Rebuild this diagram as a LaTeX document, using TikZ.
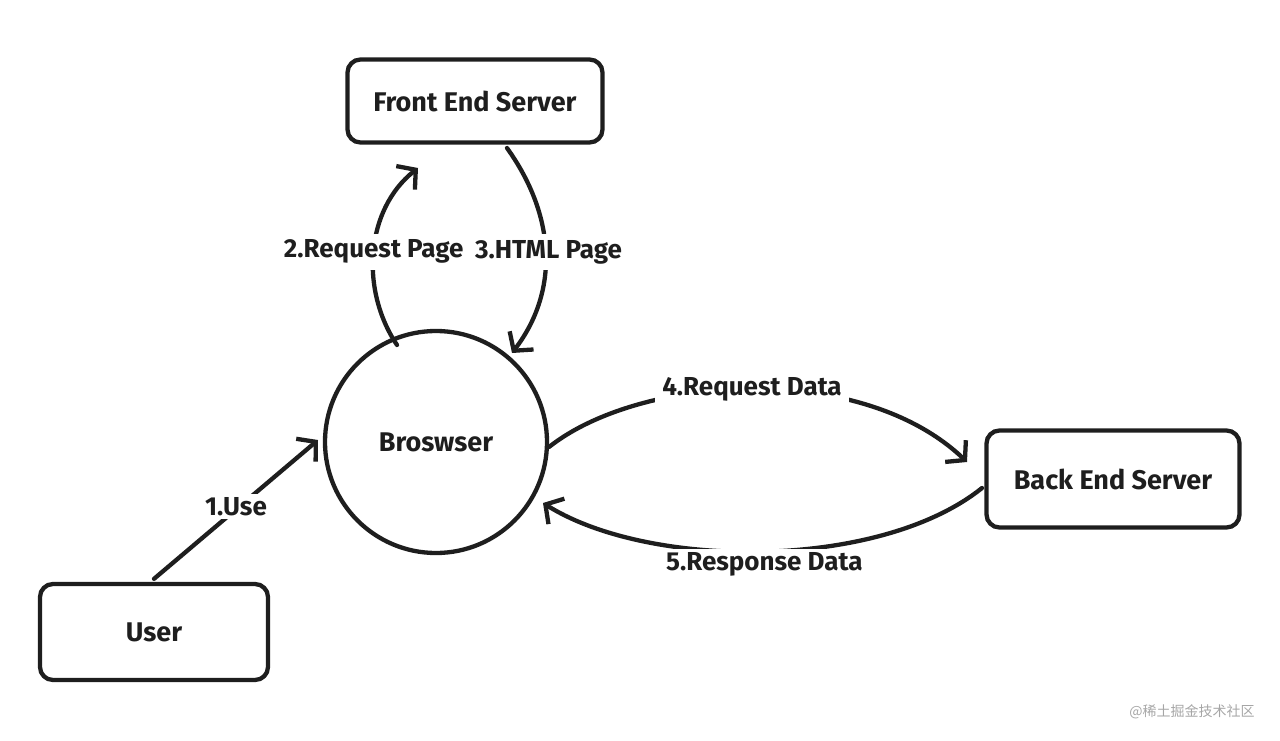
\documentclass[tikz,border=0pt]{standalone}
\usepackage{fontspec}
\setmainfont{Fira Sans}
\newfontfamily\cjk{Noto Sans CJK SC}
\usetikzlibrary{arrows.meta}
\definecolor{ink}{HTML}{1E1E1E}
\tikzset{
  box/.style={draw=ink, line width=4.3pt, rounded corners=13pt, align=center,
    font=\fontsize{27}{31}\selectfont\bfseries, text=ink},
  conn/.style={draw=ink, line width=4.3pt, line cap=round,
    -{Straight Barb[length=13pt, width=30pt, line width=4.3pt]}},
  lbl/.style={fill=white, text=ink, inner xsep=7pt, inner ysep=3pt, font=\fontsize{26}{30}\selectfont\bfseries}
}
\begin{document}
\begin{tikzpicture}[x=1pt,y=-1pt]
\useasboundingbox (0,0) rectangle (1280,741);
\node[box, minimum width=255pt, minimum height=83pt] (fe) at (475,101) {Front End Server};
\node[box, circle, minimum size=222pt, rounded corners=0pt] (br) at (436,442) {Broswser};
\node[box, minimum width=253pt, minimum height=97pt] (be) at (1113,479) {Back End Server};
\node[box, minimum width=228pt, minimum height=96pt] (us) at (154,632) {User};
% connectors
\coordinate (a1e) at (318,440);
\draw[conn] (us.north) ++(0,-3) -- (a1e) node[lbl, pos=0.5, yshift=3pt] (l1) {1.Use};
\coordinate (a2s) at (397,345);
\coordinate (a2e) at (418,168);
\draw[conn] (a2s) .. controls (360,290) and (365,210) .. (a2e) node[lbl, pos=0.5, inner xsep=2pt, inner ysep=6pt] (l2) {2.Request Page};
\coordinate (a3s) at (507,148);
\coordinate (a3e) at (512,353);
\draw[conn] (a3s) .. controls (555,215) and (560,290) .. (a3e) node[lbl, pos=0.5, xshift=3pt, inner xsep=2pt, inner ysep=6pt] (l3) {3.HTML Page};
\coordinate (a4s) at (549,447);
\coordinate (a4e) at (967,462);
\draw[conn] (a4s) .. controls (640,375) and (860,360) .. (a4e) node[lbl, pos=0.5] (l4) {4.Request Data};
\coordinate (a5s) at (982,488);
\coordinate (a5e) at (543,503);
\draw[conn] (a5s) .. controls (880,570) and (650,570) .. (a5e) node[lbl, pos=0.5, yshift=-13pt] (l5) {5.Response Data};
\node[text=gray!70, font=\cjk\fontsize{14}{16}\selectfont] (wm) at (1192,712) {@稀土掘金技术社区};
\end{tikzpicture}
\end{document}
